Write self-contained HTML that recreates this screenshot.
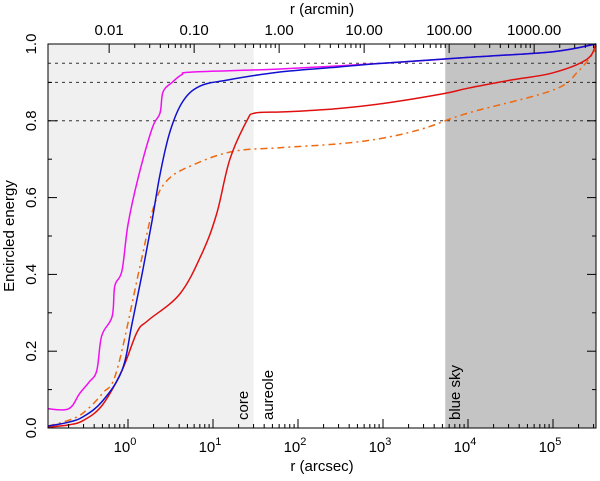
<!DOCTYPE html>
<html><head><meta charset="utf-8"><style>
body{margin:0;background:#fff}
svg{font-family:"Liberation Sans",Arial,sans-serif}
</style></head><body>
<svg id="c" width="600" height="476" xmlns="http://www.w3.org/2000/svg"></svg>
<script>
const magentaR=[0.115,0.2,0.27,0.35,0.43,0.49,0.65,0.70,0.85,1.0,1.31,1.92,2.38,2.58,3.3,4.3,5.8,61,1000,1e4,1e5,3.2e5];
const magentaV=[0.05,0.05,0.09,0.12,0.15,0.24,0.29,0.37,0.41,0.53,0.65,0.78,0.82,0.875,0.90,0.92,0.927,0.935,0.95,0.965,0.98,1.0];
const blueR=[0.115,0.2,0.3,0.5,0.85,1.11,1.46,1.92,2.38,3.1,4.4,7.0,14.6,61,300,1000,1e4,1e5,3.2e5];
const blueV=[0.005,0.015,0.03,0.07,0.15,0.27,0.40,0.54,0.66,0.77,0.85,0.89,0.906,0.927,0.94,0.95,0.965,0.98,1.0];
const redR=[0.115,0.2,0.3,0.5,0.85,1.28,1.72,4.1,7.6,11.1,15.8,25,31,61,100,300,1000,5000,1e4,3e4,1e5,2.5e5,3.2e5];
const redV=[0.002,0.008,0.02,0.06,0.15,0.25,0.28,0.35,0.46,0.56,0.70,0.80,0.82,0.823,0.825,0.832,0.845,0.87,0.885,0.905,0.925,0.96,1.0];
const orangeR=[0.115,0.2,0.3,0.5,0.74,1.38,2.0,2.9,5.8,17,61,300,1000,3000,1e4,1e5,2e5,3.2e5];
const orangeV=[0.005,0.02,0.04,0.09,0.15,0.42,0.575,0.645,0.685,0.72,0.73,0.74,0.755,0.78,0.82,0.88,0.93,0.985];
const xTickLabels=["0","1","2","3","4","5"];
const topTicks=[0.01,0.1,1,10,100,1000];
const topTickLabels=["0.01","0.10","1.00","10.00","100.00","1000.00"];
const yTicks=[0,0.2,0.4,0.6,0.8,1.0];
const yTickLabels=["0.0","0.2","0.4","0.6","0.8","1.0"];
const refLines=[0.95,0.9,0.8];
const X0=48,X1=596,Y0=428,Y1=44,DEC=85;
const xs=r=>128+DEC*Math.log10(r);
const ys=v=>Y0-(Y0-Y1)*v;
const svg=document.getElementById('c');
const NS='http://www.w3.org/2000/svg';
function mk(t,a,p){const e=document.createElementNS(NS,t);for(const k in a)e.setAttribute(k,a[k]);(p||svg).appendChild(e);return e;}
let e;
e=mk('rect',{x:X0,y:Y1,width:xs(30)-X0,height:Y0-Y1,fill:'#f0f0f0'});


e=mk('rect',{x:xs(5400),y:Y1,width:X1-xs(5400),height:Y0-Y1,fill:'#c4c4c4'});


refLines.forEach(v=>{e=mk('line',{x1:X0,x2:X1,y1:ys(v),y2:ys(v),stroke:'#333','stroke-width':1,'stroke-dasharray':'3,4'});

});
function path(R,V,col,dash,name){
const P=R.map((r,i)=>[xs(r),ys(V[i])]);
let d='M'+P[0][0].toFixed(1)+','+P[0][1].toFixed(1);
const t=0.35;
for(let i=0;i<P.length-1;i++){const p0=P[Math.max(0,i-1)],p1=P[i],p2=P[i+1],p3=P[Math.min(P.length-1,i+2)];
const c1=[p1[0]+(p2[0]-p0[0])*t/2,p1[1]+(p2[1]-p0[1])*t/2],c2=[p2[0]-(p3[0]-p1[0])*t/2,p2[1]-(p3[1]-p1[1])*t/2];
d+='C'+c1.map(v=>v.toFixed(1)).join(',')+' '+c2.map(v=>v.toFixed(1)).join(',')+' '+p2.map(v=>v.toFixed(1)).join(',');}
e=mk('path',{d:d,fill:'none',stroke:col,'stroke-width':1.5});if(dash)e.setAttribute('stroke-dasharray',dash);

}
path(orangeR,orangeV,'#ee6a10','7,4,2,4','orange-curve');
path(redR,redV,'#e01010',null,'red-curve');
path(magentaR,magentaV,'#ee10ee',null,'magenta-curve');
path(blueR,blueV,'#1010d0',null,'blue-curve');
e=mk('rect',{x:X0,y:Y1,width:X1-X0,height:Y0-Y1,fill:'none',stroke:'#000','stroke-width':1});


for(let d=-1;d<=5;d++)for(let m=1;m<10;m++){const r=m*Math.pow(10,d);const x=xs(r);if(x<X0||x>X1)continue;const L=m==1?9:4;
mk('line',{x1:x,x2:x,y1:Y0,y2:Y0-L,stroke:'#000'});}
xTickLabels.forEach(p=>{const x=xs(Math.pow(10,+p));e=mk('text',{x:x-3,y:452,'font-size':15,'text-anchor':'middle'});e.textContent='10';


const s=mk('tspan',{dy:-7,'font-size':11},e);s.textContent=p;});
for(let d=-2;d<=4;d++)for(let m=1;m<10;m++){const r=m*Math.pow(10,d)*60;const x=xs(r);if(x<X0||x>X1)continue;const L=m==1?9:4;
mk('line',{x1:x,x2:x,y1:Y1,y2:Y1+L,stroke:'#000'});}
topTicks.forEach((t,i)=>{e=mk('text',{x:xs(t*60),y:35,'font-size':15,'text-anchor':'middle'});e.textContent=topTickLabels[i];

});
for(let i=0;i<=10;i++){const v=i/10,y=ys(v),L=i%2==0?9:4;mk('line',{x1:X0,x2:X0+L,y1:y,y2:y,stroke:'#000'});mk('line',{x1:X1,x2:X1-L,y1:y,y2:y,stroke:'#000'});}
yTicks.forEach((v,i)=>{e=mk('text',{x:0,y:0,'font-size':15,'text-anchor':'middle',transform:`translate(36,${ys(v)}) rotate(-90)`});e.textContent=yTickLabels[i];

});
function txt(s,a,name){e=mk('text',a);e.textContent=s;}
txt('Encircled energy',{x:0,y:0,'font-size':15,'text-anchor':'middle',transform:'translate(14,236) rotate(-90)'},'y-axis-title');
txt('r (arcsec)',{x:322,y:471,'font-size':15,'text-anchor':'middle'},'x-axis-title');
txt('r (arcmin)',{x:322,y:14,'font-size':15,'text-anchor':'middle'},'top-axis-title');
txt('core',{x:0,y:0,'font-size':15,transform:'translate(248,420) rotate(-90)'},'core-label');
txt('aureole',{x:0,y:0,'font-size':15,transform:'translate(273,420) rotate(-90)'},'aureole-label');
txt('blue sky',{x:0,y:0,'font-size':15,transform:'translate(460,420) rotate(-90)'},'blue-sky-label');
</script>
</body></html>
